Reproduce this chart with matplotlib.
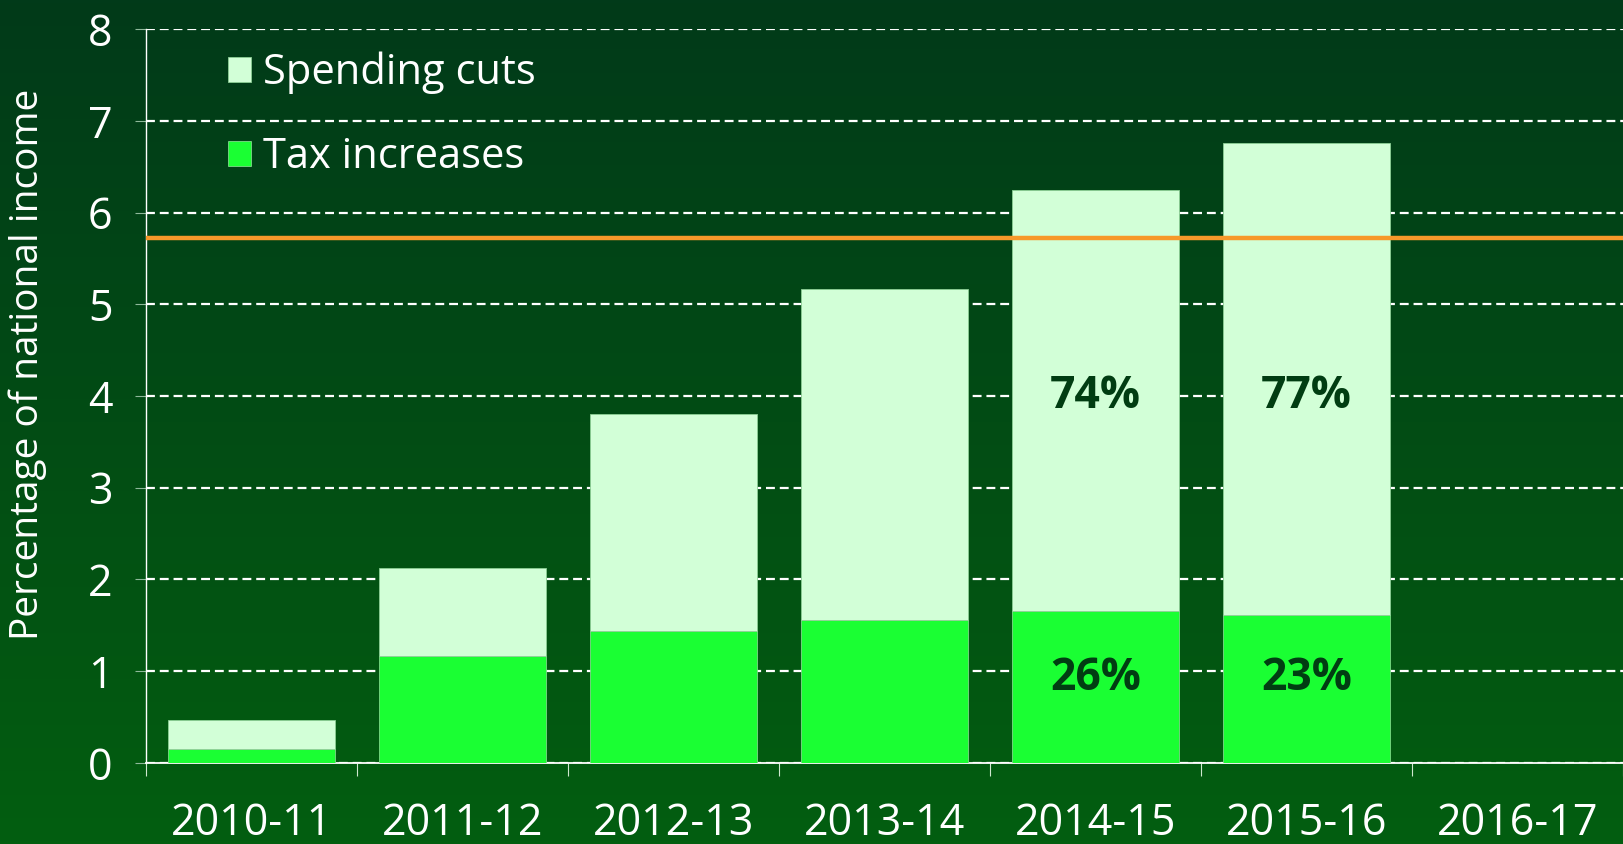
import numpy as np
import matplotlib
matplotlib.use("Agg")
import matplotlib.pyplot as plt
from matplotlib.colors import LinearSegmentedColormap

years = ['2010-11', '2011-12', '2012-13', '2013-14', '2014-15', '2015-16', '2016-17']
tax = [0.15, 1.17, 1.44, 1.56, 1.66, 1.61, 0]
spending = [0.32, 0.96, 2.36, 3.61, 4.59, 5.15, 0]
target = 5.72
cut_labels = {4: '74%', 5: '77%'}
tax_labels = {4: '26%', 5: '23%'}

plt.rcParams['font.family'] = ['Open Sans', 'DejaVu Sans']

fig = plt.figure(figsize=(16.23, 8.44), dpi=100)

# background gradient
bg = fig.add_axes([0, 0, 1, 1], zorder=-10)
cmap = LinearSegmentedColormap.from_list('bg', ['#013a19', '#035e10'])
bg.imshow(np.linspace(0, 1, 256).reshape(-1, 1), aspect='auto', cmap=cmap,
          extent=[0, 1, 0, 1], origin='upper')
bg.axis('off')

ax = fig.add_axes([0.09, 0.096, 0.91, 0.8696])
ax.set_facecolor('none')

x = np.arange(len(years))
w = 0.79
ax.bar(x, tax, w, color='#1aff33', edgecolor='#7fd98a', linewidth=0.6, zorder=3,
       label='Tax increases')
ax.bar(x, spending, w, bottom=tax, color='#d2ffd7', edgecolor='#8ccf95',
       linewidth=0.6, zorder=3, label='Spending cuts')
ax.axhline(target, color='#f7982a', lw=3.2, zorder=4)

for i, t in cut_labels.items():
    ax.text(x[i], 4.0, t, ha='center', va='center', fontsize=32,
            fontweight='bold', color='#013d12', zorder=5)
for i, t in tax_labels.items():
    ax.text(x[i], 0.92, t, ha='center', va='center', fontsize=32,
            fontweight='bold', color='#013d12', zorder=5)

ax.set_xlim(-0.5, 6.5)
ax.set_ylim(0, 8)
ax.set_yticks(range(9))
ax.yaxis.grid(True, color='white', ls=(0, (4, 2.2)), lw=1.6, zorder=1)
ax.set_axisbelow(True)

ax.set_xticks(x)
ax.set_xticklabels(years)
ax.set_xticks(np.arange(-0.5, 6.6, 1), minor=True)
ax.tick_params(axis='x', which='major', length=0, pad=28, labelsize=31,
               colors='white')
ax.tick_params(axis='x', which='minor', length=9, width=0.8, color='#cfe8cf',
               direction='out')
ax.tick_params(axis='y', length=8, width=0.8, color='#8fb89a', pad=16,
               labelsize=31, labelcolor='white')

for s in ['top', 'right']:
    ax.spines[s].set_visible(False)
ax.spines['left'].set_color('white')
ax.spines['bottom'].set_color('white')
ax.spines['left'].set_linewidth(1)
ax.spines['bottom'].set_linewidth(1.3)

ax.set_ylabel('Percentage of national income', color='white', fontsize=28)
ax.yaxis.set_label_coords(-0.067, 0.543)

h, l = ax.get_legend_handles_labels()
leg = ax.legend(h[::-1], l[::-1], loc='upper left', bbox_to_anchor=(0.03, 1.02),
                frameon=False, fontsize=30, labelcolor='white',
                handlelength=0.55, handleheight=0.55, handletextpad=0.3,
                labelspacing=1.0)

fig.savefig('out.png', dpi=100)
